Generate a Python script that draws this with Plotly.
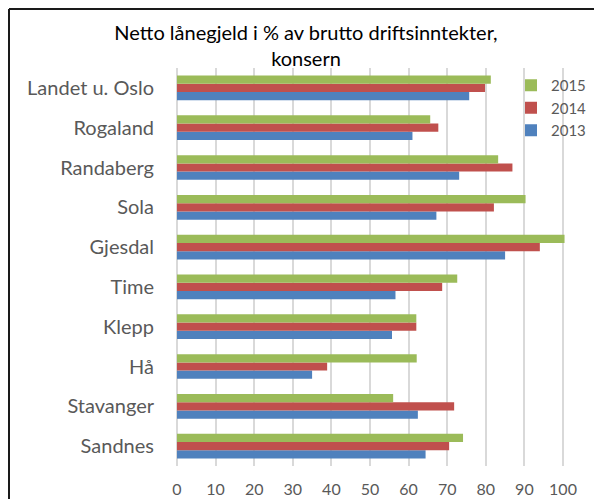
import plotly.graph_objects as go

# Data
kommuner = ["Landet u. Oslo", "Rogaland", "Randaberg", "Sola", "Gjesdal",
            "Time", "Klepp", "Hå", "Stavanger", "Sandnes"]
v2013 = [75.7, 61.0, 73.1, 67.2, 85.0, 56.6, 55.7, 35.0, 62.4, 64.4]
v2014 = [79.8, 67.7, 86.9, 82.1, 94.0, 68.7, 62.0, 38.9, 71.8, 70.5]
v2015 = [81.3, 65.6, 83.2, 90.3, 100.4, 72.6, 62.0, 62.1, 56.0, 74.1]
x_ticks = [0, 10, 20, 30, 40, 50, 60, 70, 80, 90, 100]

FONT = "Lato"
# the page adds an 8px body margin, so the figure is drawn 8px smaller
W, H = 594, 491
ML, MR, MT, MB = 169, 37, 60, 33

fig = go.Figure()
# first trace sits at the bottom of each group
for name, vals, color in [("2013", v2013, "#4F81BD"),
                          ("2014", v2014, "#C0504D"),
                          ("2015", v2015, "#9BBB59")]:
    fig.add_trace(go.Bar(
        y=kommuner, x=vals, name=name, orientation="h",
        marker=dict(color=color, line=dict(width=0)),
    ))

pw = W - ML - MR
ph = H - MT - MB
# black frame (top and left edges visible in the crop)
fig.add_shape(type="line", xref="paper", yref="paper",
              x0=(1 - ML) / pw, x1=(W + 5 - ML) / pw,
              y0=1 + (MT - 1) / ph, y1=1 + (MT - 1) / ph,
              line=dict(color="#1a1a1a", width=2))
fig.add_shape(type="line", xref="paper", yref="paper",
              x0=(1 - ML) / pw, x1=(1 - ML) / pw,
              y0=1 + (MT - 1) / ph, y1=-(MB + 5) / ph,
              line=dict(color="#1a1a1a", width=2))

fig.update_layout(
    width=W, height=H,
    margin=dict(l=ML, r=MR, t=MT, b=MB, autoexpand=False),
    paper_bgcolor="white", plot_bgcolor="white",
    barmode="group", bargap=0.38, bargroupgap=0,
    title=dict(text="Netto lånegjeld i % av brutto driftsinntekter,<br>konsern",
               x=298 / W, xanchor="center", yref="container", y=1 - 31.5 / H,
               yanchor="middle",
               font=dict(family=FONT, size=20, color="#000000")),
    font=dict(family=FONT, color="#595959"),
    legend=dict(x=(503 - ML) / pw, xanchor="left", y=1 - (61 - MT) / ph, yanchor="top",
                traceorder="reversed", font=dict(size=15, color="#595959"),
                bgcolor="rgba(0,0,0,0)", itemwidth=30),
    showlegend=True,
)
fig.update_xaxes(range=[0, 100 * pw / 386], tickvals=x_ticks, automargin=False,
                 showgrid=True, gridcolor="#D9D9D9", gridwidth=1.5,
                 zeroline=True, zerolinecolor="#D9D9D9", zerolinewidth=1.5,
                 showline=False, ticks="", tickfont=dict(size=16, color="#595959"),
                 ticklabelstandoff=12)
fig.update_yaxes(categoryorder="array", categoryarray=kommuner[::-1],
                 automargin=False, showgrid=False, ticks="",
                 tickfont=dict(size=20, color="#595959"), ticklabelstandoff=22)

fig.write_html("out.html")
